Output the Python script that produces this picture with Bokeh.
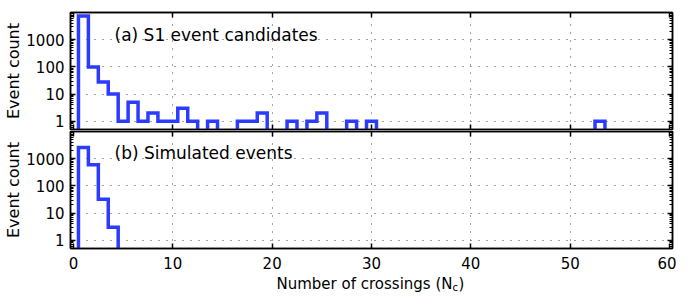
from bokeh.plotting import figure
from bokeh.models import (Range1d, LogAxis, LinearAxis, FixedTicker, Label,
                          PrintfTickFormatter, CustomJSTickFormatter, ColumnDataSource)
from bokeh.layouts import column
from bokeh.embed import file_html
from bokeh.resources import INLINE

# ---------------- data ----------------
bins = list(range(1, 61))                       # number of crossings N_c
counts_a = ([7500, 100, 28, 10, 1, 5, 1, 2, 1, 1,
             3, 1, 0, 1, 0, 0, 1, 1, 2, 0,
             0, 1, 0, 1, 2, 0, 0, 1, 0, 1]
            + [0] * 22 + [1] + [0] * 7)          # (a) S1 event candidates
counts_b = [2600, 605, 32, 3] + [0] * 56         # (b) Simulated events

x_ticks = [0, 10, 20, 30, 40, 50, 60]
y_ticks = [1, 10, 100, 1000]
title_a = "(a) S1 event candidates"
title_b = "(b) Simulated events"
y_label = "Event count"
x_label_main = "Number of crossings (N"
x_label_sub = "c"
x_label_end = ")"

FONT = "DejaVu Sans"
BLUE = "#2b3bff"
X_RANGE = Range1d(-0.3, 60.3)
Y_LIMITS = (0.5, 1e4)
FLOOR = 1e-3   # drawing value for empty bins (below the visible log range)

y_minor = []
for d in [0.1, 1, 10, 100, 1000]:
    for k in range(2, 10):
        v = k * d
        if Y_LIMITS[0] <= v <= Y_LIMITS[1]:
            y_minor.append(v)


def step_path(bins, counts):
    xs, ys = [bins[0] - 0.5], [FLOOR]
    for b, c in zip(bins, counts):
        v = c if c > 0 else FLOOR
        xs += [b - 0.5, b + 0.5]
        ys += [v, v]
    xs.append(bins[-1] + 0.5)
    ys.append(FLOOR)
    return xs, ys


def hide_labels(ax):
    ax.formatter = CustomJSTickFormatter(code="return '';")
    ax.major_label_text_font_size = "1px"
    ax.major_label_standoff = 0


def style_x(ax, labels):
    ax.ticker = FixedTicker(ticks=x_ticks)
    ax.major_tick_in = 5
    ax.major_tick_out = 0
    ax.minor_tick_line_color = None
    ax.axis_line_width = 1.5
    ax.major_tick_line_width = 1.5
    ax.axis_line_color = "black"
    if labels:
        ax.major_label_text_font = FONT
        ax.major_label_text_font_size = "15px"
        ax.major_label_text_color = "black"
        ax.major_label_standoff = 8
    else:
        hide_labels(ax)


def style_y(ax, labels):
    ax.ticker = FixedTicker(ticks=y_ticks, minor_ticks=y_minor)
    ax.major_tick_in = 5
    ax.major_tick_out = 0
    ax.minor_tick_in = 3
    ax.minor_tick_out = 0
    ax.axis_line_width = 1.5
    ax.major_tick_line_width = 1.5
    ax.minor_tick_line_width = 1.2
    ax.axis_line_color = "black"
    if labels:
        ax.formatter = PrintfTickFormatter(format="%d")
        ax.major_label_text_font = FONT
        ax.major_label_text_font_size = "15px"
        ax.major_label_text_color = "black"
        ax.major_label_standoff = 6
        ax.axis_label = y_label
        ax.axis_label_text_font = FONT
        ax.axis_label_text_font_size = "16px"
        ax.axis_label_text_font_style = "normal"
        ax.axis_label_text_color = "black"
        ax.axis_label_standoff = 0
    else:
        hide_labels(ax)


def make_panel(counts, title, height, border_top, border_bottom, xlabels, title_y):
    p = figure(width=676, height=height,
               x_range=X_RANGE, y_range=Range1d(*Y_LIMITS),
               y_axis_type="log", output_backend="svg", toolbar_location=None,
               min_border_left=70, min_border_right=4,
               min_border_top=border_top, min_border_bottom=border_bottom)
    p.outline_line_color = "black"
    p.outline_line_width = 1.5
    p.background_fill_color = "white"
    p.border_fill_color = "white"

    style_x(p.xaxis[0], xlabels)
    style_y(p.yaxis[0], True)

    top_ax = LinearAxis()
    style_x(top_ax, False)
    p.add_layout(top_ax, "above")
    right_ax = LogAxis()
    style_y(right_ax, False)
    p.add_layout(right_ax, "right")

    p.xgrid.ticker = FixedTicker(ticks=x_ticks[1:-1])
    p.ygrid.ticker = FixedTicker(ticks=y_ticks)
    for g in (p.xgrid, p.ygrid):
        g.grid_line_color = "#333333"
        g.grid_line_dash = "1 7"
        g.grid_line_width = 1
        g.grid_line_alpha = 0.9

    xs, ys = step_path(bins, counts)
    p.line(x="x", y="y", source=ColumnDataSource(dict(x=xs, y=ys)),
           line_color=BLUE, line_width=3.5, line_join="miter")

    p.add_layout(Label(x=44, y=title_y, x_units="screen", y_units="screen",
                       text=title, text_font=FONT, text_font_size="17px",
                       text_color="black", text_baseline="alphabetic"))
    return p


p1 = make_panel(counts_a, title_a, 130, 12, 1, False, 94.5)
p2 = make_panel(counts_b, title_b, 144, 1, 26, True, 95.5)

# strip below the lower panel holding the x-axis title (with subscript)
p3 = figure(width=676, height=18, x_range=X_RANGE, y_range=Range1d(0, 1),
            output_backend="svg", toolbar_location=None,
            x_axis_location=None, y_axis_location=None,
            min_border_left=70, min_border_right=4, min_border_top=0, min_border_bottom=0)
p3.outline_line_color = None
p3.grid.visible = False
p3.background_fill_color = "white"
p3.border_fill_color = "white"
p3.add_layout(Label(x=30, y=9, x_units="data", y_units="screen", x_offset=-95,
                    text=x_label_main, text_font=FONT, text_font_size="15px",
                    text_color="black", text_baseline="alphabetic"))
p3.add_layout(Label(x=30, y=5, x_units="data", y_units="screen", x_offset=81,
                    text=x_label_sub, text_font=FONT, text_font_size="10px",
                    text_color="black", text_baseline="alphabetic"))
p3.add_layout(Label(x=30, y=9, x_units="data", y_units="screen", x_offset=87,
                    text=x_label_end, text_font=FONT, text_font_size="15px",
                    text_color="black", text_baseline="alphabetic"))

layout = column(p1, p2, p3, spacing=0)
open("out.html", "w").write(file_html(layout, INLINE))
